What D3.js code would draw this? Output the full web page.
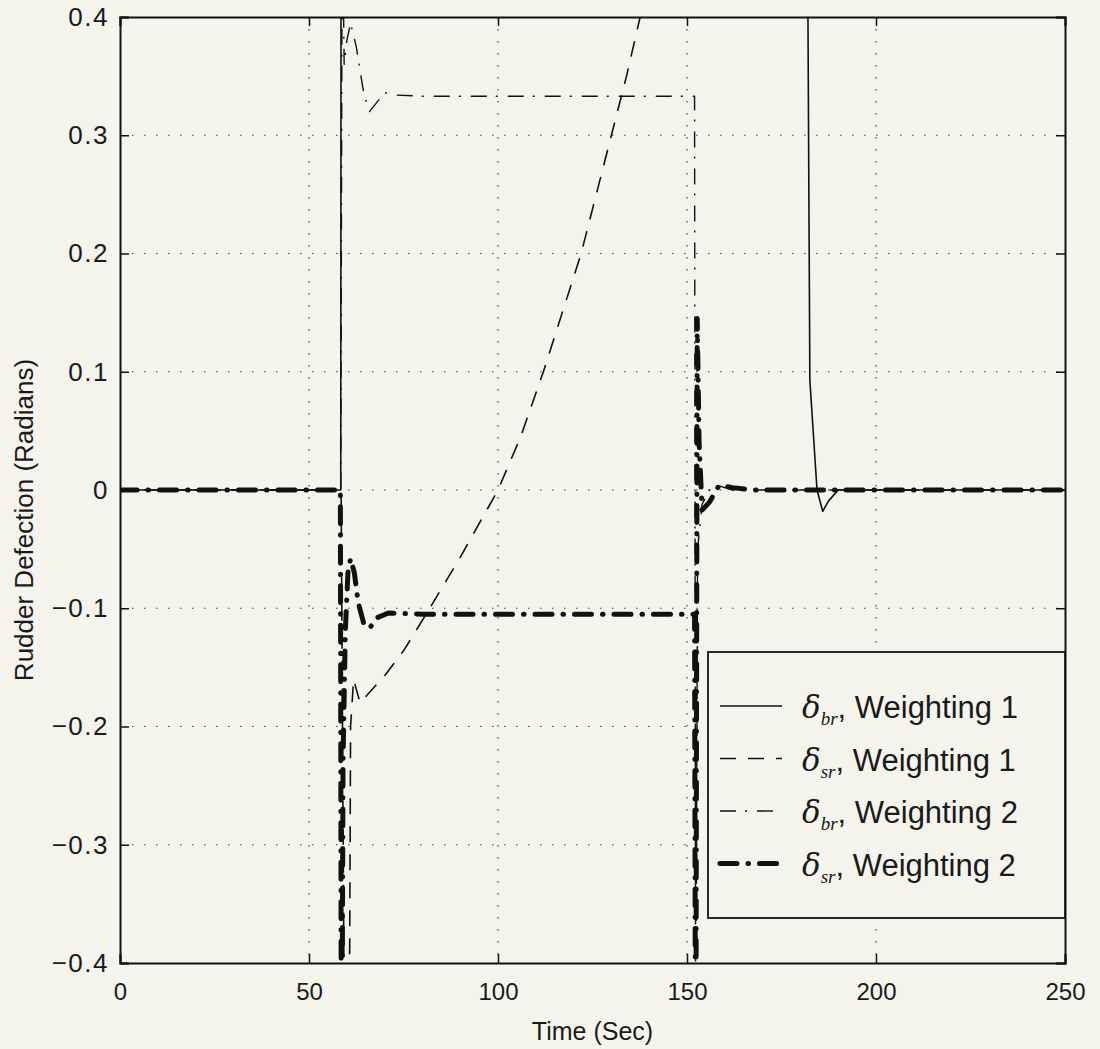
<!DOCTYPE html>
<html>
<head>
<meta charset="utf-8">
<script src="https://cdn.jsdelivr.net/npm/d3@7"></script>
<style>
  html, body { margin: 0; padding: 0; background: #f4f4ec; }
  svg { display: block; font-family: "Liberation Sans", Arial, Helvetica, sans-serif; }
</style>
</head>
<body>
<div id="chart"></div>
<script>
// Tick values
const xTicks = [0, 50, 100, 150, 200, 250];
const yTicks = [-0.4, -0.3, -0.2, -0.1, 0, 0.1, 0.2, 0.3, 0.4];

// [time, value] pairs for each series (values beyond ±0.4 get clipped like the original)
const brW1 = [[0, 0], [58.4, 0], [58.6, 1.2], [181.5, 1.2], [182.0, 0.4], [182.5, 0.093],
  [184.4, 0], [185.9, -0.018], [187.5, -0.009], [190, 0], [250, 0]];

const srW1 = [[0, 0], [58.5, 0], [59.5, -0.55], [60.5, -0.6], [61, -0.2], [61.8, -0.16],
  [63.5, -0.18], [70, -0.157], [75, -0.136], [81, -0.105], [90, -0.057], [100, 0],
  [106, 0.045], [112, 0.1], [117, 0.15], [122, 0.2], [126, 0.25], [130, 0.3],
  [134, 0.35], [137.6, 0.4], [141, 0.45], [145, 0.5]];

const brW2 = [[0, 0], [58.4, 0], [58.8, 0.5], [59.3, 0.36], [60, 0.38], [61, 0.395],
  [62.5, 0.375], [64.5, 0.335], [66, 0.32], [68, 0.328], [70, 0.336], [73, 0.334],
  [80, 0.333], [152, 0.333], [152.3, -0.5], [152.8, -0.05], [154, -0.012], [156, 0],
  [158, 0.004], [162, 0], [250, 0]];

const srW2 = [[0, 0], [58.3, 0], [58.6, -0.6], [59.0, -0.23], [59.6, -0.12], [60.3, -0.07],
  [61, -0.058], [62, -0.07], [63, -0.095], [64.5, -0.113], [66, -0.117], [68, -0.108],
  [71, -0.104], [80, -0.105], [152, -0.105], [152.3, -0.6], [152.7, 0.145], [153.2, 0.04],
  [154, -0.017], [156, -0.01], [158.5, 0.004], [162, 0.002], [168, 0], [250, 0]];

const legendLabels = ["br", "sr", "br", "sr"];
const legendWeights = ["Weighting 1", "Weighting 1", "Weighting 2", "Weighting 2"];

const width = 1100, height = 1049;
const margin = {top: 17, right: 35, bottom: 86, left: 120};
const innerW = width - margin.left - margin.right;
const innerH = height - margin.top - margin.bottom;

const svg = d3.select('#chart').append('svg')
  .attr('width', width)
  .attr('height', height);

svg.append('rect').attr('width', width).attr('height', height).attr('fill', '#f4f4ec');

const x = d3.scaleLinear().domain([0, 250]).range([0, innerW]);
const y = d3.scaleLinear().domain([-0.4, 0.4]).range([innerH, 0]);

const g = svg.append('g').attr('transform', `translate(${margin.left},${margin.top})`);

g.append('clipPath').attr('id', 'plot-clip')
  .append('rect').attr('width', innerW).attr('height', innerH);

// dotted grid
g.append('g').selectAll('line').data(xTicks.slice(1, -1)).join('line')
  .attr('x1', d => x(d)).attr('x2', d => x(d))
  .attr('y1', 0).attr('y2', innerH)
  .attr('stroke', '#444').attr('stroke-width', 1.2)
  .attr('stroke-dasharray', '1.5,10.5');
g.append('g').selectAll('line').data(yTicks.slice(1, -1)).join('line')
  .attr('y1', d => y(d)).attr('y2', d => y(d))
  .attr('x1', 0).attr('x2', innerW)
  .attr('stroke', '#444').attr('stroke-width', 1.2)
  .attr('stroke-dasharray', '1.5,10.5');

// axes, matlab style ticks pointing inward on all four sides
const fmtY = d => d === 0 ? '0' : d3.format('.1f')(d).replace('-', '\u2212');

const axL = g.append('g')
  .call(d3.axisLeft(y).tickValues(yTicks).tickSize(-9).tickPadding(11).tickFormat(fmtY));
const axR = g.append('g').attr('transform', `translate(${innerW},0)`)
  .call(d3.axisRight(y).tickValues(yTicks).tickSize(-9).tickFormat(''));
const axB = g.append('g').attr('transform', `translate(0,${innerH})`)
  .call(d3.axisBottom(x).tickValues(xTicks).tickSize(-9).tickPadding(20).tickFormat(d3.format('d')));
const axT = g.append('g')
  .call(d3.axisTop(x).tickValues(xTicks).tickSize(-9).tickFormat(''));

[axL, axR, axB, axT].forEach(a => {
  a.select('.domain').attr('stroke', '#111').attr('stroke-width', 2);
  a.selectAll('.tick line').attr('stroke', '#111').attr('stroke-width', 1.5);
  a.selectAll('text').attr('fill', '#1a1a1a').attr('font-size', 24)
    .attr('font-family', '"Liberation Sans", Arial, sans-serif');
});
// the y tick labels in the original are a little larger and wider
axL.selectAll('.tick text').attr('font-size', 26).style('letter-spacing', '1.5px');

// series
const line = d3.line().x(d => x(d[0])).y(d => y(d[1]));
const plot = g.append('g').attr('clip-path', 'url(#plot-clip)');

const styles = [
  {data: brW1, w: 1.6, dash: null, cap: 'butt'},
  {data: srW1, w: 1.6, dash: '16,12', cap: 'butt'},
  {data: brW2, w: 1.4, dash: '16,9,2,10', cap: 'butt'},
  {data: srW2, w: 5, dash: '17,11,0.5,11', cap: 'round'}
];

styles.forEach(s => {
  plot.append('path').datum(s.data)
    .attr('d', line)
    .attr('fill', 'none')
    .attr('stroke', '#111')
    .attr('stroke-width', s.w)
    .attr('stroke-linejoin', 'round')
    .attr('stroke-linecap', s.cap)
    .attr('stroke-dasharray', s.dash);
});

// legend box
const lg = g.append('g');
const lgX = x(0) + 588, lgY = 635;
lg.append('rect')
  .attr('x', lgX).attr('y', lgY)
  .attr('width', innerW - 588).attr('height', 266)
  .attr('fill', '#f4f4ec').attr('stroke', '#111').attr('stroke-width', 1.8);

styles.forEach((s, i) => {
  const ry = lgY + 54 + i * 52.5;
  lg.append('line')
    .attr('x1', lgX + 12).attr('x2', lgX + 74)
    .attr('y1', ry).attr('y2', ry)
    .attr('stroke', '#111')
    .attr('stroke-width', s.w)
    .attr('stroke-linecap', s.cap)
    .attr('stroke-dasharray', s.dash);
  const t = lg.append('text')
    .attr('x', lgX + 94).attr('y', ry + 12)
    .attr('font-size', 31).attr('fill', '#1a1a1a');
  t.append('tspan').attr('font-family', '"DejaVu Serif", serif')
    .attr('font-style', 'italic').text('\u03b4');
  t.append('tspan').attr('font-family', '"Liberation Serif", serif')
    .attr('font-style', 'italic').attr('font-size', 19).attr('dy', 7).text(legendLabels[i]);
  t.append('tspan').attr('dy', -7).text(', ' + legendWeights[i]);
});

// axis titles
svg.append('text')
  .attr('x', margin.left + innerW / 2).attr('y', 1040)
  .attr('text-anchor', 'middle').attr('font-size', 25).attr('fill', '#1a1a1a')
  .text('Time (Sec)');

svg.append('text')
  .attr('transform', `translate(33,${margin.top + innerH / 2 + 30}) rotate(-90)`)
  .attr('text-anchor', 'middle').attr('font-size', 26).attr('fill', '#1a1a1a')
  .text('Rudder Defection (Radians)');
</script>
</body>
</html>
